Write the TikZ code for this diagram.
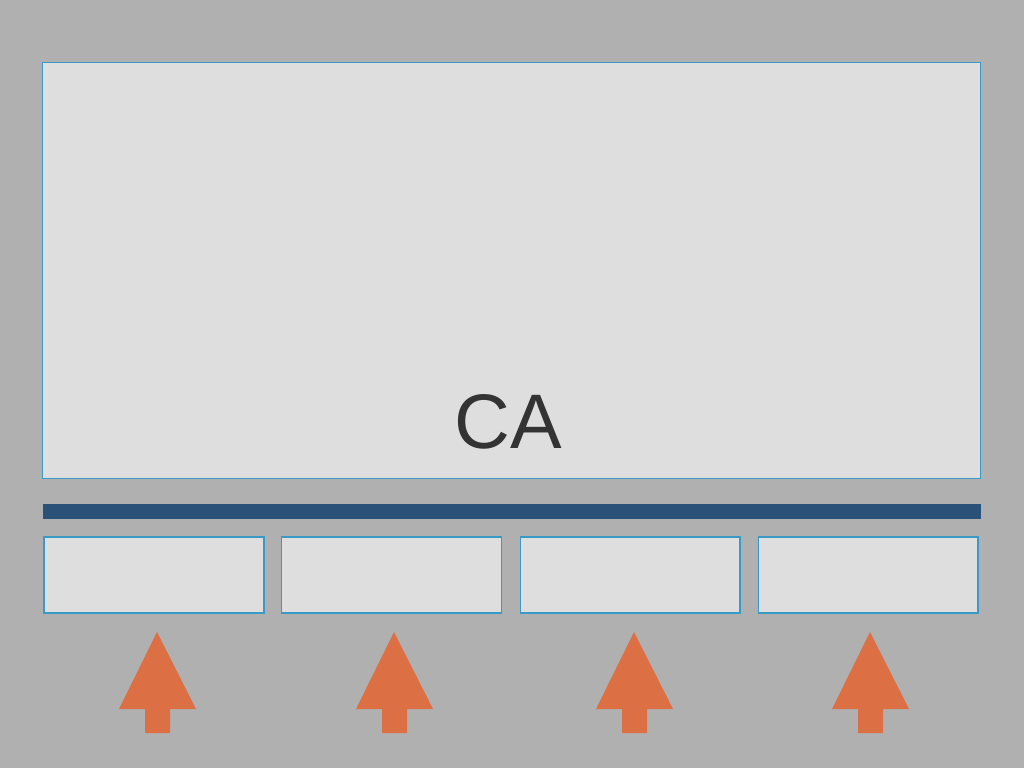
\documentclass[tikz,border=0pt]{standalone}
\usepackage{fontspec}
\setmainfont{Liberation Sans}
\definecolor{bggray}{HTML}{B0B0B0}
\definecolor{boxfill}{HTML}{DEDEDE}
\definecolor{boxline}{HTML}{3A9AC6}
\definecolor{busblue}{HTML}{2A5278}
\definecolor{arroworange}{HTML}{DD6F45}
\definecolor{textgray}{HTML}{333333}

\begin{document}
\begin{tikzpicture}[x=0.02cm, y=-0.02cm,
  box/.style = {rectangle, draw=boxline, fill=boxfill, line width=0.6pt, inner sep=0pt},
  bus/.style = {rectangle, fill=busblue, inner sep=0pt, minimum width=18.76cm, minimum height=0.3cm},
  inarrow/.style = {fill=arroworange}
]

% Background
\fill[bggray] (0,0) rectangle (1024,768);

% Main box with its label
\node[box, minimum width=18.78cm, minimum height=8.34cm] at (511.5,270.5) (ca) {};
\node[anchor=base, text=textgray, font=\fontsize{44}{53}\selectfont] at (508,448) (calabel) {CA};

% Bus bar
\node[bus] at (512,511.5) (bus) {};

% Input boxes and arrows
\foreach \x/\a/\n in {154/157/1, 391.5/394/2, 630/634/3, 868/870/4} {
  \node[box, minimum width=4.4cm, minimum height=1.52cm] at (\x,575) (in\n) {};
  \fill[inarrow] (\a,632) -- ({\a+39},709) -- ({\a+13},709) -- ({\a+13},733)
    -- ({\a-12},733) -- ({\a-12},709) -- ({\a-38},709) -- cycle;
}

\end{tikzpicture}
\end{document}
